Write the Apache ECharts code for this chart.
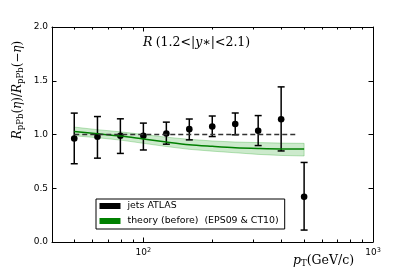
<!DOCTYPE html>
<html><head><meta charset="utf-8">
<script src="https://cdn.jsdelivr.net/npm/echarts@6/dist/echarts.min.js"></script>
<style>html,body{margin:0;padding:0;background:#fff}#c{width:415px;height:277px}</style>
</head><body><div id="c"></div>
<script>
// ---- data ----
const ptBins   = [50, 63.1, 79.4, 100, 125.9, 158.5, 199.5, 251.2, 316.2, 398.1, 501.2];
const ratio    = [0.963, 0.979, 0.988, 0.988, 1.009, 1.050, 1.074, 1.097, 1.035, 1.142, 0.420];
const errLow   = [0.728, 0.780, 0.824, 0.856, 0.910, 0.950, 0.981, 0.997, 0.897, 0.847, 0.111];
const errHigh  = [1.199, 1.167, 1.146, 1.106, 1.115, 1.144, 1.172, 1.200, 1.176, 1.443, 0.740];
const theoryCentral = [1.028, 1.007, 0.986, 0.958, 0.930, 0.905, 0.890, 0.877, 0.870, 0.866, 0.866];
const theoryHigh    = [1.069, 1.045, 1.025, 1.000, 0.975, 0.955, 0.940, 0.930, 0.925, 0.920, 0.918];
const theoryLow     = [0.988, 0.970, 0.948, 0.918, 0.888, 0.862, 0.845, 0.830, 0.815, 0.805, 0.800];
const refLineX = [50, 470];
const refLineY = 1.0;
const xMajorTicks = [100, 1000];
const xMinorTicks = [40, 50, 60, 70, 80, 90, 200, 300, 400, 500, 600, 700, 800, 900];
const yMin = 0, yMax = 2, yInterval = 0.5;
const xMin = 40, xMax = 1000;
const seriesNames = ['jets ATLAS', 'theory (before)  (EPS09 & CT10)'];

const chart = echarts.init(document.getElementById('c'), null, {renderer: 'canvas'});
const SANS = 'DejaVu Sans';
const SERIF = 'DejaVu Serif';

function xAxisDef(pos, ticks, len, withLine, withLabel) {
  return {
    type: 'log', logBase: 10, min: xMin, max: xMax, position: pos,
    axisLine: {show: withLine, lineStyle: {color: '#000', width: 1}},
    axisTick: {show: true, inside: true, length: len, customValues: ticks, lineStyle: {color: '#000', width: 1}},
    axisLabel: withLabel ? {
      show: true, customValues: ticks, margin: 5,
      formatter: v => '{b|10}{s|' + Math.round(Math.log10(v)) + '}',
      rich: {
        b: {fontSize: 9, fontFamily: SANS, color: '#000', lineHeight: 12},
        s: {fontSize: 6.5, fontFamily: SANS, color: '#000', verticalAlign: 'top', lineHeight: 12}
      }
    } : {show: false},
    splitLine: {show: false}, minorTick: {show: false}
  };
}

const option = {
  animation: false,
  backgroundColor: '#fff',
  grid: {left: 52, right: 42, top: 27, bottom: 35, containLabel: false},
  xAxis: [
    xAxisDef('bottom', xMajorTicks, 4.5, true, true),
    xAxisDef('bottom', xMinorTicks, 2.5, false, false),
    xAxisDef('top', xMajorTicks, 4.5, true, false),
    xAxisDef('top', xMinorTicks, 2.5, false, false)
  ],
  yAxis: [
    {type: 'value', min: yMin, max: yMax, interval: yInterval, position: 'left',
     axisLine: {show: true, lineStyle: {color: '#000', width: 1}},
     axisTick: {show: true, inside: true, length: 4.5, lineStyle: {color: '#000'}},
     axisLabel: {show: true, margin: 4, fontSize: 9, fontFamily: SANS, color: '#000', formatter: v => v.toFixed(1)},
     splitLine: {show: false}},
    {type: 'value', min: yMin, max: yMax, interval: yInterval, position: 'right',
     axisLine: {show: true, lineStyle: {color: '#000', width: 1}},
     axisTick: {show: true, inside: true, length: 4.5, lineStyle: {color: '#000'}},
     axisLabel: {show: false}, splitLine: {show: false}}
  ],
  legend: {
    left: 96, top: 199, orient: 'vertical', selectedMode: false,
    backgroundColor: '#fff', borderColor: '#000', borderWidth: 1, borderRadius: 0,
    padding: [2, 6, 3, 3.5], itemGap: 5, itemWidth: 21, itemHeight: 6,
    textStyle: {fontSize: 9.4, fontFamily: SANS, color: '#000', lineHeight: 10, padding: [0, 0, 0, 2]},
    data: [
      {name: seriesNames[0], icon: 'rect', itemStyle: {color: '#000'}},
      {name: seriesNames[1], icon: 'rect', itemStyle: {color: '#008000'}}
    ]
  },
  graphic: [
    {type: 'text', left: 143, top: 36, style: {
      text: '{i|R} {n|(1.2}{n|<}{n||}{i|y}{n|∗|}{n|<}{n|2.1)}',
      rich: {
        i: {fontFamily: SERIF, fontStyle: 'italic', fontSize: 12.5, fill: '#000'},
        n: {fontFamily: SERIF, fontSize: 12.5, fill: '#000'}
      }
    }},
    {type: 'text', x: 18, y: 90, rotation: Math.PI / 2, style: {
      text: '{i|R}{s|pPb}{n|(}{i|η}{n|)/}{i|R}{s|pPb}{n|(−}{i|η}{n|)}',
      align: 'center', verticalAlign: 'middle',
      rich: {
        i: {fontFamily: SERIF, fontStyle: 'italic', fontSize: 12, fill: '#000', lineHeight: 14},
        n: {fontFamily: SERIF, fontSize: 12, fill: '#000', lineHeight: 14},
        s: {fontFamily: SERIF, fontSize: 8.5, fill: '#000', verticalAlign: 'bottom', lineHeight: 14}
      }
    }},
    {type: 'text', x: 293, y: 261, style: {
      text: '{i|p}{s|T}{n|(GeV/c)}', verticalAlign: 'middle',
      rich: {
        i: {fontFamily: SERIF, fontStyle: 'italic', fontSize: 12.5, fill: '#000', lineHeight: 15},
        n: {fontFamily: SERIF, fontSize: 12.5, fill: '#000', lineHeight: 15},
        s: {fontFamily: SERIF, fontSize: 8.5, fill: '#000', verticalAlign: 'bottom', lineHeight: 15}
      }
    }}
  ],
  series: [
    {
      name: 'band', type: 'custom', xAxisIndex: 0, yAxisIndex: 0, silent: true,
      data: ptBins.map((x, i) => [x, theoryLow[i], theoryHigh[i]]),
      encode: {x: 0, y: [1, 2]},
      renderItem: function (params, api) {
        if (params.dataIndex !== 0) return {type: 'group', children: []};
        const pts = [];
        for (let i = 0; i < ptBins.length; i++) pts.push(api.coord([ptBins[i], theoryHigh[i]]));
        for (let i = ptBins.length - 1; i >= 0; i--) pts.push(api.coord([ptBins[i], theoryLow[i]]));
        return {type: 'polygon', shape: {points: pts},
          style: {fill: 'rgba(0,150,0,0.2)', stroke: 'rgba(0,150,0,0.25)', lineWidth: 1}};
      }
    },
    {
      name: seriesNames[1], type: 'line', xAxisIndex: 0, yAxisIndex: 0,
      data: ptBins.map((x, i) => [x, theoryCentral[i]]),
      smooth: 0.3, symbol: 'none', color: '#008000',
      itemStyle: {color: '#008000'},
      lineStyle: {color: '#008000', width: 1.5}
    },
    {
      name: 'ref', type: 'line', xAxisIndex: 0, yAxisIndex: 0, silent: true,
      data: refLineX.map(x => [x, refLineY]), symbol: 'none',
      lineStyle: {color: '#333', width: 1.5, type: [5, 3]}
    },
    {
      name: seriesNames[0], type: 'custom', xAxisIndex: 0, yAxisIndex: 0,
      itemStyle: {color: '#000'},
      data: ptBins.map((x, i) => [x, ratio[i], errLow[i], errHigh[i]]),
      encode: {x: 0, y: [1, 2, 3]},
      renderItem: function (params, api) {
        const x = api.value(0);
        const pc = api.coord([x, api.value(1)]);
        const pl = api.coord([x, api.value(2)]);
        const ph = api.coord([x, api.value(3)]);
        const cap = 3.5;
        const st = {stroke: '#000', lineWidth: 1.5};
        return {type: 'group', children: [
          {type: 'line', shape: {x1: pc[0], y1: pl[1], x2: pc[0], y2: ph[1]}, style: st},
          {type: 'line', shape: {x1: pc[0] - cap, y1: ph[1], x2: pc[0] + cap, y2: ph[1]}, style: st},
          {type: 'line', shape: {x1: pc[0] - cap, y1: pl[1], x2: pc[0] + cap, y2: pl[1]}, style: st},
          {type: 'circle', shape: {cx: pc[0], cy: pc[1], r: 3.3}, style: {fill: '#000'}}
        ]};
      }
    }
  ]
};
chart.setOption(option);
</script></body></html>
